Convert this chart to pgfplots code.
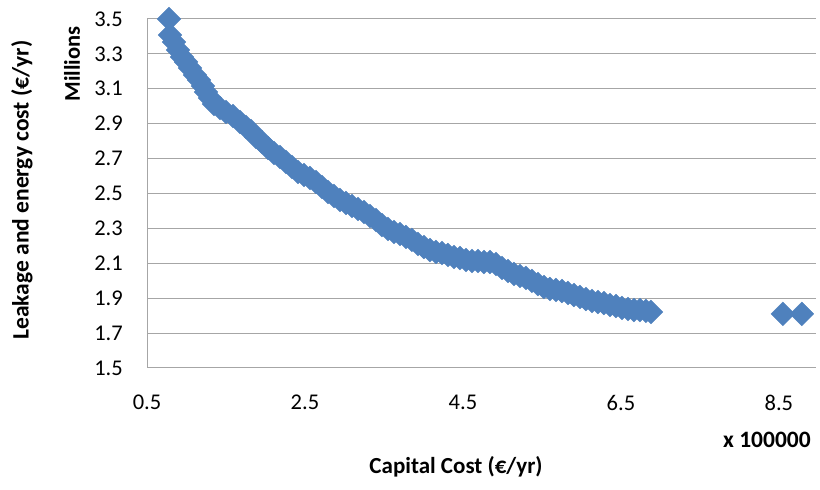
\documentclass[border=0pt]{standalone}
\usepackage{fontspec}
\setmainfont{Carlito}
\usepackage{pgfplots}
\pgfplotsset{compat=1.18}
\definecolor{xlblue}{HTML}{4F81BD}
\definecolor{gridgray}{HTML}{A6A6A6}
\begin{document}
\begin{tikzpicture}[x=1bp,y=1bp]
\path[use as bounding box] (0,0) rectangle (820,490);
\begin{axis}[
  at={(147bp,122bp)}, anchor=south west,
  scale only axis, width=669bp, height=349bp,
  xmin=0.5, xmax=8.97, ymin=1.5, ymax=3.5,
  clip=false,
  axis x line*=bottom, axis y line*=left,
  axis line style={draw=gridgray, line width=1bp, -},
  xtick={0.5,2.5,4.5,6.5,8.5},
  xticklabels={0.5,2.5,4.5,6.5,8.5},
  ytick={1.5,1.7,1.9,2.1,2.3,2.5,2.7,2.9,3.1,3.3,3.5},
  yticklabels={1.5,1.7,1.9,2.1,2.3,2.5,2.7,2.9,3.1,3.3,3.5},
  major tick length=0pt,
  ymajorgrids, grid style={draw=gridgray, line width=1bp},
  ticklabel style={font=\fontsize{22.5bp}{26bp}\selectfont, text=black},
  yticklabel style={anchor=east, inner sep=0pt, xshift=-24bp},
  xticklabel style={anchor=north, inner sep=0pt, yshift=-27bp},
]
\addplot[only marks, mark=square*, mark size=8.4bp,
  mark options={rotate=45, fill=xlblue, draw=xlblue}] coordinates {
(0.778,3.500) (0.791,3.408) (0.842,3.368) (0.892,3.322) (0.943,3.282)
(0.994,3.254) (1.044,3.219) (1.108,3.179) (1.158,3.150) (1.209,3.116)
(1.247,3.082) (1.297,3.047) (1.348,3.013) (1.424,2.990) (1.500,2.967)
(1.589,2.944) (1.677,2.910) (1.753,2.881) (1.816,2.858) (1.880,2.824)
(1.956,2.795) (2.032,2.761) (2.108,2.732) (2.184,2.709) (2.259,2.681)
(2.335,2.652) (2.411,2.623) (2.487,2.606) (2.563,2.589) (2.639,2.566)
(2.715,2.537) (2.791,2.509) (2.867,2.486) (2.943,2.463) (3.019,2.446)
(3.095,2.428) (3.171,2.411) (3.247,2.394) (3.323,2.371) (3.399,2.348)
(3.475,2.319) (3.551,2.297) (3.627,2.279) (3.703,2.268) (3.778,2.251)
(3.854,2.234) (3.930,2.211) (4.006,2.193) (4.082,2.176) (4.158,2.165)
(4.234,2.159) (4.310,2.148) (4.386,2.136) (4.462,2.130) (4.538,2.119)
(4.614,2.113) (4.690,2.113) (4.766,2.107) (4.842,2.107) (4.918,2.096)
(4.994,2.073) (5.070,2.056) (5.146,2.039) (5.222,2.027) (5.297,2.016)
(5.373,1.999) (5.449,1.981) (5.525,1.964) (5.601,1.953) (5.677,1.947)
(5.753,1.941) (5.829,1.930) (5.905,1.918) (5.981,1.907) (6.057,1.895)
(6.133,1.884) (6.209,1.878) (6.285,1.872) (6.361,1.861) (6.437,1.855)
(6.513,1.844) (6.589,1.838) (6.665,1.832) (6.741,1.832) (6.816,1.827)
(6.880,1.821) (8.550,1.810) (8.790,1.810)
};
\end{axis}
\node[rotate=90, font=\fontsize{22.5bp}{26bp}\selectfont\bfseries] at (72,426) {Millions};
\node[rotate=90, font=\fontsize{23.5bp}{27bp}\selectfont\bfseries] at (22,300) {Leakage and energy cost (€/yr)};
\node[font=\fontsize{23.5bp}{27bp}\selectfont\bfseries] at (767,50) {x 100000};
\node[font=\fontsize{23bp}{27bp}\selectfont\bfseries] at (456,23) {Capital Cost (€/yr)};
\end{tikzpicture}
\end{document}
